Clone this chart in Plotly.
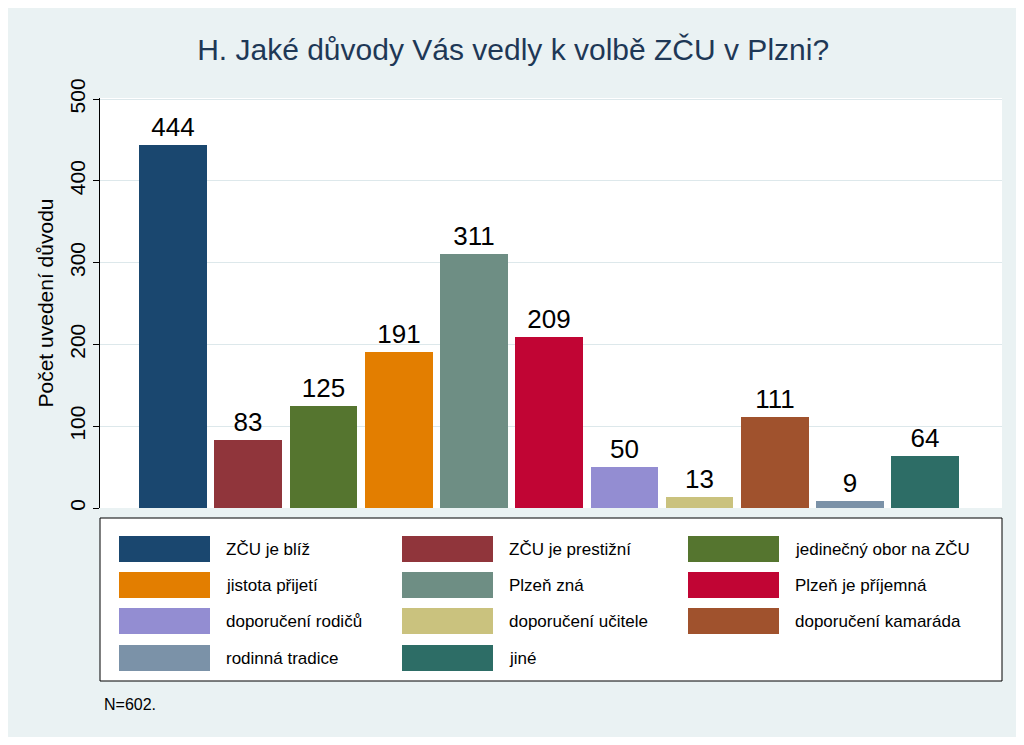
import plotly.graph_objects as go

categories = ["ZČU je blíž", "ZČU je prestižní", "jedinečný obor na ZČU",
              "jistota přijetí", "Plzeň zná", "Plzeň je příjemná",
              "doporučení rodičů", "doporučení učitele", "doporučení kamaráda",
              "rodinná tradice", "jiné"]
counts = [444, 83, 125, 191, 311, 209, 50, 13, 111, 9, 64]
colors = ["#1A476F", "#90353B", "#55752F", "#E37E00", "#6E8E84", "#C10534",
          "#938DD2", "#CAC27E", "#A0522D", "#7B92A8", "#2D6D66"]

W, H = 1024, 745
L, R, T, B = 92, 994, 90, 500

fig = go.Figure()
fig.add_trace(go.Bar(
    x=list(range(len(categories))), y=counts, width=0.9,
    marker=dict(color=colors, line=dict(width=0)),
    text=[str(c) for c in counts], textposition="outside",
    textfont=dict(size=26, color="black"), cliponaxis=False,
    showlegend=False))

def px(x):
    return (x - 6 - L) / (R - L)

def py(y):
    return (B - (y - 7)) / (B - T)

shapes = [dict(type="rect", xref="paper", yref="paper",
               x0=0, x1=1, y0=py(680), y1=py(517),
               line=dict(color="black", width=1), fillcolor="white")]
annotations = []
cols_x = [117, 400, 686]
rows_y = [548, 584, 620, 657]
for i, (name, col) in enumerate(zip(categories, colors)):
    r, c = divmod(i, 3)
    x0 = cols_x[c]
    yc = rows_y[r]
    shapes.append(dict(type="rect", xref="paper", yref="paper",
                       x0=px(x0), x1=px(x0 + 91), y0=py(yc + 13), y1=py(yc - 13),
                       line=dict(width=0), fillcolor=col))
    annotations.append(dict(xref="paper", yref="paper", x=px(x0 + 105), y=py(yc),
                            text=name, showarrow=False, xanchor="left",
                            yanchor="middle",
                            font=dict(size=17, color="black")))
annotations.append(dict(xref="paper", yref="paper", x=px(100), y=py(703),
                        text="N=602.", showarrow=False, xanchor="left",
                        yanchor="middle",
                        font=dict(size=16, color="black")))

fig.update_layout(
    width=W - 16, height=H - 16,
    margin=dict(l=L, r=W - 16 - R, t=T, b=H - 16 - B),
    paper_bgcolor="#EAF2F3", plot_bgcolor="white",
    font=dict(family="Liberation Sans, Arial", color="black"),
    title=dict(text="H. Jaké důvody Vás vedly k volbě ZČU v Plzni?",
               x=px(550), xanchor="center", y=1 - 41 / (H - 16), yanchor="middle",
               font=dict(size=30, color="#1E3856")),
    bargap=0,
    shapes=shapes, annotations=annotations,
    xaxis=dict(range=[-0.97, 11.02], showticklabels=False, ticks="",
               showgrid=False, zeroline=False, showline=False),
    yaxis=dict(range=[0, 500 * 1.0025], tickvals=[0, 100, 200, 300, 400, 500],
               tickangle=-90, tickfont=dict(size=21), ticks="outside",
               ticklen=6, tickcolor="black", showline=True, linecolor="black",
               gridcolor="#DDE8EB", zeroline=False,
               title=dict(text="Počet uvedení důvodu", font=dict(size=21),
                          standoff=6)),
)

fig.write_html("out.html")
